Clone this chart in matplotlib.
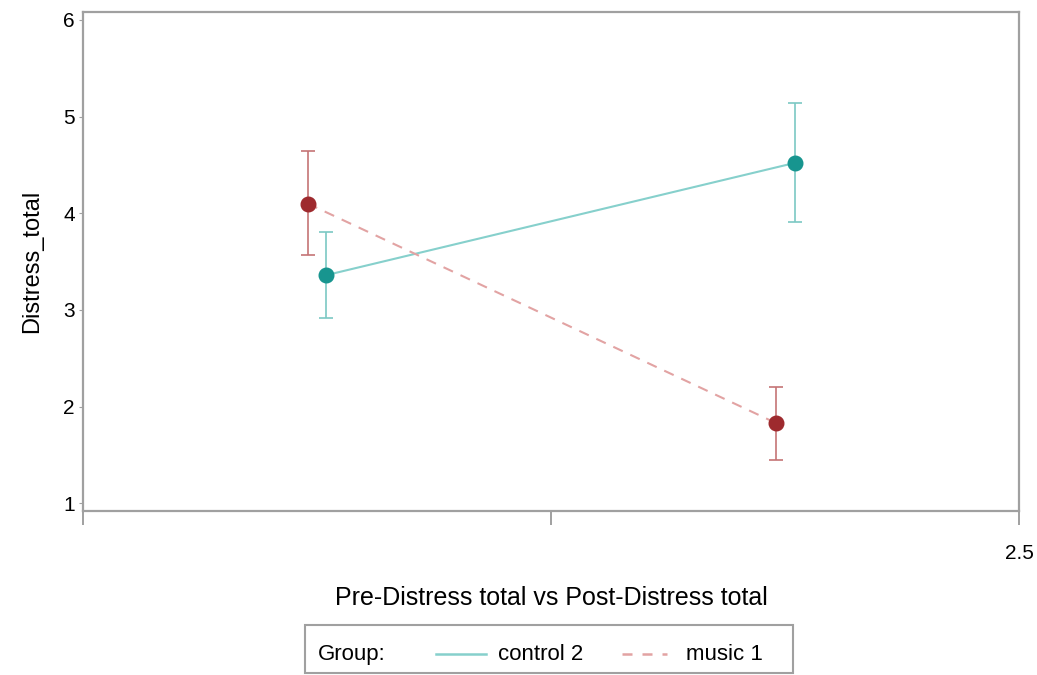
import matplotlib
matplotlib.use("Agg")
import matplotlib.pyplot as plt
from matplotlib.lines import Line2D
from matplotlib.patches import Rectangle

plt.rcParams['font.family'] = ['Liberation Sans', 'DejaVu Sans']

# Dados
tempos = [1, 2]
grupos = ["control 2", "music 1"]
deslocamento = {"control 2": 0.02, "music 1": -0.02}
medias = {"control 2": [3.36, 4.52], "music 1": [4.10, 1.83]}
limite_inf = {"control 2": [2.92, 3.91], "music 1": [3.57, 1.45]}
limite_sup = {"control 2": [3.81, 5.14], "music 1": [4.64, 2.20]}

cor_marcador = {"control 2": "#17958f", "music 1": "#9e2a2e"}
cor_linha = {"control 2": "#86d0cc", "music 1": "#e2a3a3"}
cor_erro = {"control 2": "#7cc8c4", "music 1": "#c57476"}
estilo = {"control 2": "-", "music 1": (0, (5, 4))}

fig = plt.figure(figsize=(10.37, 6.75), dpi=100)
ax = fig.add_axes([0.080, 0.243, 0.903, 0.739])

for g in grupos:
    xs = [t + deslocamento[g] for t in tempos]
    ys = medias[g]
    erro = [[m - lo for m, lo in zip(ys, limite_inf[g])],
            [hi - m for m, hi in zip(ys, limite_sup[g])]]
    ax.plot(xs, ys, color=cor_linha[g], linestyle=estilo[g], linewidth=1.5, zorder=2)
    ax.errorbar(xs, ys, yerr=erro, fmt='none', ecolor=cor_erro[g], elinewidth=1.2,
                capsize=5, capthick=1.2, zorder=3)
    ax.plot(xs, ys, 'o', color=cor_marcador[g], markersize=10.5, zorder=4)

ax.set_xlim(0.5, 2.5)
ax.set_ylim(0.92, 6.08)
ax.set_yticks([1, 2, 3, 4, 5, 6])
ax.set_xticks([0.5, 1.5, 2.5])
ax.set_xticklabels(["", "", "2.5"])
for s in ax.spines.values():
    s.set_color("#a0a0a0")
    s.set_linewidth(1.6)
ax.tick_params(axis='y', length=3, color="#a0a0a0", labelsize=15, pad=3)
ax.tick_params(axis='x', length=10, width=1.4, color="#a0a0a0", labelsize=15, pad=14)
ax.set_ylabel("Distress_total", fontsize=17, labelpad=14)
ax.set_xlabel("Pre-Distress total vs Post-Distress total", fontsize=18, labelpad=16)

# Legenda desenhada em caixa
fig.patches.append(Rectangle((305 / 1037, 2 / 675), 488 / 1037, 48 / 675,
                             transform=fig.transFigure, fill=False,
                             edgecolor="#a0a0a0", linewidth=1.5))
ly = 1 - 654 / 675
base = 1 - 660 / 675
fig.text(318 / 1037, base, "Group:", fontsize=16, va='baseline')
fig.lines.append(Line2D([436 / 1037, 486 / 1037], [ly, ly], transform=fig.transFigure,
                        color=cor_linha["control 2"], linewidth=1.8))
fig.text(498 / 1037, base, "control 2", fontsize=16, va='baseline')
fig.lines.append(Line2D([622 / 1037, 667 / 1037], [ly, ly], transform=fig.transFigure,
                        color=cor_linha["music 1"], linewidth=1.8, linestyle=(0, (4, 4))))
fig.text(686 / 1037, base, "music 1", fontsize=16, va='baseline')

fig.savefig("out.png", dpi=100)
